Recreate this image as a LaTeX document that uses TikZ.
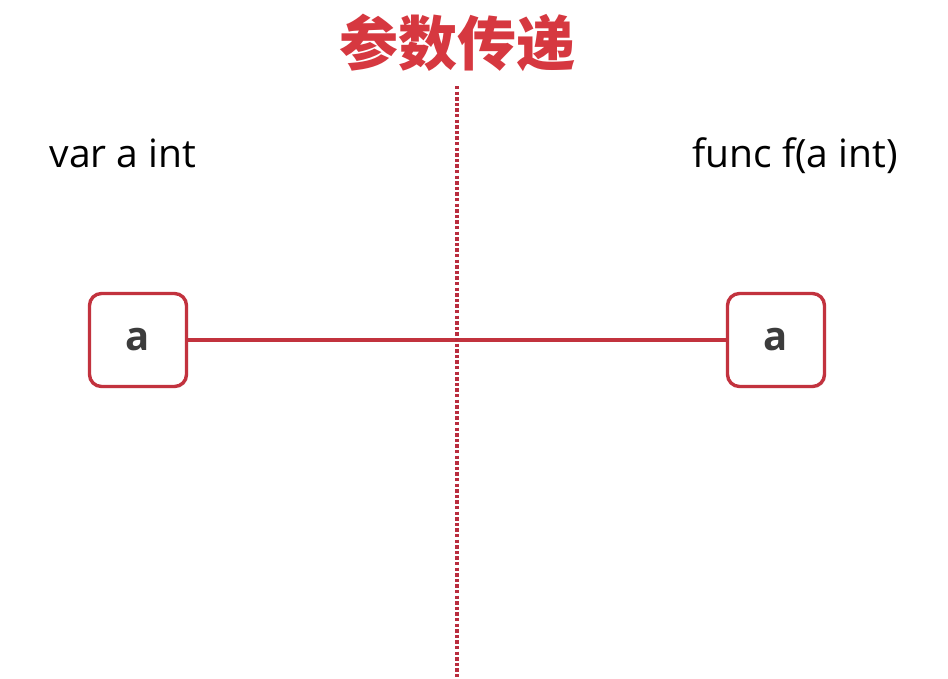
\documentclass[tikz,border=0pt]{standalone}
\usepackage{fontspec}
\setmainfont{Open Sans}
\newfontfamily\cjkfont{Noto Sans CJK SC}
\usetikzlibrary{shadows}
\definecolor{titlered}{RGB}{214,56,64}
\definecolor{boxred}{RGB}{194,50,62}
\definecolor{dotred}{RGB}{185,45,62}
\definecolor{txtgray}{RGB}{60,60,60}
\tikzset{
  varbox/.style={draw=boxred, line width=3.4pt, rounded corners=12pt, fill=white,
    minimum width=97pt, minimum height=93pt, inner sep=0pt,
    font=\fontsize{40}{40}\selectfont\bfseries, text=txtgray,
    drop shadow={opacity=0.18, shadow xshift=1.5pt, shadow yshift=-1.5pt}},
  label/.style={font=\fontsize{39}{39}\selectfont, text=black, anchor=base, inner sep=0pt},
  link/.style={draw=boxred, line width=3.4pt},
  divider/.style={draw=dotred, line width=3.6pt, dash pattern=on 3.4pt off 2.2pt}
}
\begin{document}
\begin{tikzpicture}[x=1pt, y=-1pt]
\useasboundingbox (0,0) rectangle (948,678);
\fill[white] (0,0) rectangle (948,678);
\node[font=\cjkfont\fontsize{59}{59}\selectfont\bfseries, text=titlered, inner sep=0pt] (title) at (457,43) {参数传递};
\node[label] (lefttxt) at (123,167) {var a int};
\node[label] (righttxt) at (795,167) {func f(a int)};
\node[varbox] (l) at (138,340) {a};
\node[varbox] (r) at (776,340) {a};
\draw[link] (l.east) -- (r.west);
\coordinate (dtop) at (457,86);
\coordinate (dbot) at (457,678);
\draw[divider] (dtop) -- (dbot);
\end{tikzpicture}
\end{document}
